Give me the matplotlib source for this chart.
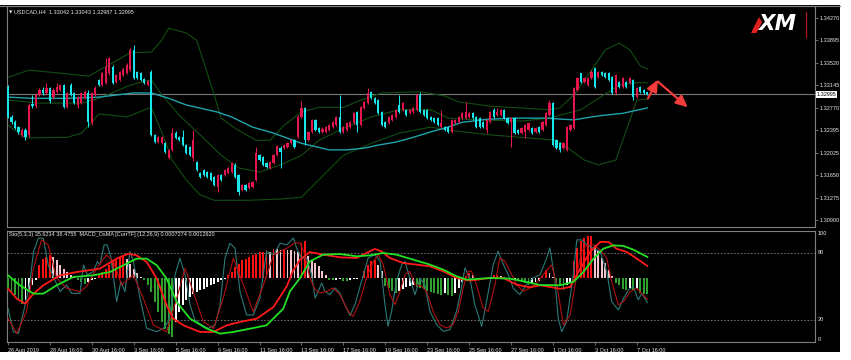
import matplotlib
matplotlib.use("Agg")
import matplotlib.pyplot as plt
import numpy as np
from matplotlib.patches import Rectangle, Polygon
from matplotlib.lines import Line2D

plt.rcParams['font.family'] = ['Liberation Sans', 'DejaVu Sans']

symbol_header = "USDCAD,H4  1.33042 1.33043 1.32987 1.32995"
sub_header = "Sto(5,3,3) 35.6234 38.4755  MACD_OsMA [CurrTF] (12,26,9) 0.0007274 0.0012620"

open_ = [1.3312,1.3262,1.3253,1.3245,1.3232,1.3240,1.3232,1.3283,1.3280,1.3299,1.3307,1.3302,1.3310,1.3295,1.3304,1.3307,1.3315,1.3278,1.3315,1.3302,
1.3282,1.3285,1.3293,1.3302,1.3252,1.3299,1.3324,1.3315,1.3319,1.3335,1.3345,1.3320,1.3324,1.3332,1.3335,1.3340,1.3374,1.3337,1.3335,1.3325,
1.3315,1.3337,1.3232,1.3220,1.3218,1.3218,1.3193,1.3207,1.3235,1.3228,1.3228,1.3215,1.3212,1.3193,1.3187,1.3168,1.3173,1.3170,1.3168,1.3162,
1.3145,1.3165,1.3165,1.3168,1.3170,1.3182,1.3165,1.3140,1.3148,1.3143,1.3145,1.3157,1.3198,1.3195,1.3185,1.3177,1.3185,1.3198,1.3210,1.3210,
1.3212,1.3218,1.3223,1.3228,1.3262,1.3277,1.3223,1.3237,1.3257,1.3243,1.3237,1.3237,1.3240,1.3245,1.3248,1.3262,1.3237,1.3240,1.3245,1.3252,
1.3270,1.3248,1.3277,1.3285,1.3304,1.3293,1.3290,1.3270,1.3253,1.3252,1.3257,1.3262,1.3282,1.3274,1.3274,1.3268,1.3270,1.3274,1.3299,1.3274,
1.3274,1.3262,1.3260,1.3260,1.3245,1.3245,1.3245,1.3237,1.3252,1.3253,1.3260,1.3260,1.3262,1.3268,1.3262,1.3260,1.3253,1.3240,1.3253,1.3274,
1.3265,1.3265,1.3274,1.3260,1.3253,1.3260,1.3240,1.3235,1.3237,1.3240,1.3243,1.3237,1.3245,1.3240,1.3248,1.3265,1.3285,1.3223,1.3218,1.3210,
1.3207,1.3240,1.3243,1.3307,1.3335,1.3320,1.3315,1.3327,1.3343,1.3328,1.3337,1.3335,1.3335,1.3328,1.3302,1.3320,1.3312,1.3320,1.3319,1.3324,
1.3295,1.3312,1.3307,1.33042]
high = [1.3315,1.3265,1.3257,1.3247,1.3243,1.3243,1.3285,1.3299,1.3302,1.3310,1.3312,1.3319,1.3312,1.3310,1.3319,1.3317,1.3317,1.3304,1.3319,1.3304,
1.3297,1.3304,1.3307,1.3307,1.3304,1.3314,1.3325,1.3337,1.3360,1.3362,1.3349,1.3333,1.3338,1.3343,1.3352,1.3377,1.3382,1.3338,1.3337,1.3327,
1.3324,1.3340,1.3233,1.3230,1.3230,1.3220,1.3208,1.3243,1.3238,1.3230,1.3240,1.3217,1.3213,1.3240,1.3188,1.3170,1.3175,1.3172,1.3170,1.3163,
1.3167,1.3167,1.3175,1.3178,1.3187,1.3185,1.3167,1.3150,1.3150,1.3153,1.3155,1.3212,1.3200,1.3197,1.3187,1.3188,1.3200,1.3215,1.3213,1.3217,
1.3220,1.3225,1.3225,1.3265,1.3288,1.3278,1.3238,1.3258,1.3258,1.3245,1.3245,1.3247,1.3250,1.3255,1.3263,1.3299,1.3247,1.3253,1.3255,1.3270,
1.3272,1.3280,1.3288,1.3310,1.3305,1.3295,1.3292,1.3272,1.3255,1.3263,1.3267,1.3275,1.3299,1.3287,1.3275,1.3275,1.3278,1.3300,1.3304,1.3275,
1.3275,1.3263,1.3262,1.3262,1.3274,1.3247,1.3247,1.3258,1.3258,1.3263,1.3270,1.3287,1.3270,1.3270,1.3263,1.3262,1.3255,1.3258,1.3272,1.3277,
1.3277,1.3275,1.3275,1.3262,1.3262,1.3262,1.3242,1.3245,1.3250,1.3253,1.3245,1.3245,1.3247,1.3255,1.3270,1.3290,1.3287,1.3225,1.3220,1.3220,
1.3247,1.3250,1.3312,1.3328,1.3335,1.3328,1.3328,1.3340,1.3345,1.3338,1.3338,1.3337,1.3337,1.3330,1.3333,1.3322,1.3328,1.3322,1.3328,1.3325,
1.3312,1.3314,1.3309,1.33043]
low = [1.3260,1.3250,1.3242,1.3233,1.3228,1.3223,1.3228,1.3277,1.3277,1.3297,1.3299,1.3300,1.3285,1.3292,1.3302,1.3305,1.3277,1.3277,1.3297,1.3283,
1.3277,1.3283,1.3292,1.3245,1.3248,1.3297,1.3314,1.3314,1.3317,1.3332,1.3317,1.3319,1.3322,1.3330,1.3333,1.3338,1.3325,1.3325,1.3322,1.3317,
1.3314,1.3230,1.3218,1.3218,1.3217,1.3202,1.3192,1.3205,1.3225,1.3222,1.3213,1.3200,1.3197,1.3188,1.3172,1.3160,1.3163,1.3160,1.3155,1.3147,
1.3137,1.3155,1.3163,1.3167,1.3168,1.3160,1.3132,1.3138,1.3138,1.3142,1.3143,1.3155,1.3188,1.3180,1.3177,1.3175,1.3183,1.3197,1.3177,1.3208,
1.3210,1.3217,1.3210,1.3227,1.3260,1.3215,1.3222,1.3235,1.3238,1.3235,1.3235,1.3235,1.3238,1.3243,1.3247,1.3235,1.3235,1.3238,1.3243,1.3250,
1.3237,1.3247,1.3275,1.3283,1.3292,1.3283,1.3267,1.3247,1.3243,1.3250,1.3255,1.3260,1.3268,1.3272,1.3263,1.3267,1.3268,1.3272,1.3268,1.3263,
1.3258,1.3255,1.3252,1.3247,1.3243,1.3238,1.3235,1.3235,1.3250,1.3252,1.3258,1.3258,1.3260,1.3258,1.3243,1.3243,1.3243,1.3235,1.3252,1.3260,
1.3263,1.3263,1.3258,1.3250,1.3212,1.3233,1.3233,1.3233,1.3227,1.3238,1.3233,1.3235,1.3235,1.3238,1.3247,1.3263,1.3213,1.3208,1.3203,1.3208,
1.3205,1.3238,1.3242,1.3305,1.3319,1.3319,1.3314,1.3325,1.3310,1.3327,1.3330,1.3327,1.3322,1.3300,1.3300,1.3310,1.3310,1.3310,1.3317,1.3290,
1.3293,1.3302,1.3300,1.32987]
close = [1.3262,1.3253,1.3243,1.3237,1.3240,1.3228,1.3282,1.3280,1.3299,1.3307,1.3302,1.3310,1.3288,1.3307,1.3312,1.3315,1.3278,1.3302,1.3299,1.3285,
1.3295,1.3302,1.3304,1.3253,1.3302,1.3310,1.3315,1.3335,1.3345,1.3360,1.3319,1.3332,1.3337,1.3342,1.3349,1.3374,1.3327,1.3327,1.3324,1.3319,
1.3322,1.3232,1.3220,1.3228,1.3228,1.3203,1.3207,1.3235,1.3227,1.3223,1.3215,1.3202,1.3198,1.3223,1.3173,1.3162,1.3165,1.3162,1.3157,1.3148,
1.3165,1.3157,1.3173,1.3177,1.3185,1.3162,1.3137,1.3148,1.3140,1.3152,1.3153,1.3202,1.3190,1.3182,1.3178,1.3187,1.3198,1.3213,1.3203,1.3215,
1.3218,1.3223,1.3212,1.3262,1.3277,1.3223,1.3237,1.3257,1.3240,1.3237,1.3242,1.3245,1.3248,1.3253,1.3262,1.3237,1.3245,1.3252,1.3253,1.3268,
1.3248,1.3278,1.3287,1.3302,1.3293,1.3285,1.3268,1.3248,1.3245,1.3262,1.3265,1.3274,1.3270,1.3285,1.3265,1.3274,1.3277,1.3299,1.3270,1.3265,
1.3260,1.3257,1.3253,1.3248,1.3252,1.3240,1.3237,1.3257,1.3257,1.3262,1.3268,1.3270,1.3268,1.3260,1.3245,1.3245,1.3245,1.3257,1.3270,1.3262,
1.3270,1.3274,1.3260,1.3252,1.3260,1.3235,1.3235,1.3243,1.3248,1.3252,1.3235,1.3243,1.3237,1.3253,1.3268,1.3285,1.3215,1.3210,1.3207,1.3218,
1.3245,1.3248,1.3310,1.3327,1.3320,1.3327,1.3327,1.3337,1.3312,1.3337,1.3332,1.3328,1.3324,1.3302,1.3332,1.3312,1.3327,1.3312,1.3327,1.3295,
1.3310,1.3304,1.3302,1.32995]

bb_x = [0,6,15,23,29,35,41,44,46,51,54,56,59,61,65,71,75,79,84,89,96,101,107,118,125,129,138,155,158,162,167,171,175,178,181,183]
bb_upper = [1.3328,1.3340,1.3335,1.3330,1.3349,1.3369,1.3370,1.3390,1.3410,1.3402,1.3390,1.3354,1.3299,1.3260,1.3243,1.3223,1.3223,1.3248,1.3270,1.3278,
1.3278,1.3290,1.3302,1.3304,1.3297,1.3287,1.3280,1.3274,1.3277,1.3299,1.3340,1.3374,1.3385,1.3374,1.3347,1.3342]
bbm_x = [0,9,21,26,35,41,44,49,55,61,66,72,78,84,89,96,104,112,121,126,135,147,155,158,164,169,175,179,183]
bb_middle = [1.3290,1.3285,1.3285,1.3293,1.3315,1.3324,1.3299,1.3265,1.3232,1.3198,1.3177,1.3170,1.3182,1.3198,1.3223,1.3243,1.3262,1.3274,1.3274,1.3260,
1.3257,1.3255,1.3260,1.3265,1.3274,1.3293,1.3315,1.3319,1.3319]
bbl_x = [0,5,17,21,24,26,34,41,44,47,51,55,59,69,78,84,89,96,104,112,121,126,138,149,157,161,165,169,174,177,180,183]
bb_lower = [1.3248,1.3227,1.3228,1.3235,1.3253,1.3267,1.3262,1.3278,1.3237,1.3190,1.3157,1.3132,1.3123,1.3123,1.3125,1.3128,1.3157,1.3198,1.3218,1.3235,
1.3245,1.3240,1.3232,1.3227,1.3223,1.3207,1.3190,1.3182,1.3190,1.3240,1.3290,1.3292]
ma_x = [0,7,17,26,36,41,46,51,60,64,70,76,84,92,97,102,106,111,116,121,126,130,137,145,154,162,167,171,176,183]
ma_long = [1.3295,1.3293,1.3293,1.3295,1.3302,1.3302,1.3293,1.3282,1.3270,1.3262,1.3245,1.3235,1.3218,1.3207,1.3207,1.3210,1.3215,1.3220,1.3228,1.3237,
1.3245,1.3253,1.3258,1.3260,1.3260,1.3257,1.3262,1.3265,1.3268,1.3277]
bid_price = 1.32995

price_ticks = [1.34270,1.33895,1.33520,1.33145,1.32770,1.32395,1.32025,1.31650,1.31275,1.30900]
date_labels = ["26 Aug 2019","28 Aug 16:00","30 Aug 16:00","3 Sep 16:00","5 Sep 16:00","9 Sep 16:00",
               "11 Sep 16:00","13 Sep 16:00","17 Sep 16:00","19 Sep 16:00","23 Sep 16:00","25 Sep 16:00",
               "27 Sep 16:00","1 Oct 16:00","3 Oct 16:00","7 Oct 16:00"]
date_bars = [0,12,24,36,48,60,72,84,96,108,120,132,144,156,168,180]

sto_k_x = [0,1.5,3,4.9,6.3,7.3,8.7,10.1,11.5,13,14.9,16.8,18.2,20.6,21.6,22.7,24.4,25.6,26.3,27.5,28.4,29.4,31.1,32.3,33.5,34.9,35.9,37.8,39.7,42.6,
44.5,45.9,46.9,47.8,49.2,50.7,52.1,53.5,55.4,57.3,59.3,60.7,62.1,63.5,65,66.4,68.3,70.2,72.1,74,76,77.9,79.8,
81.7,82.6,84,85.5,86.9,87.9,88.8,89.8,90.7,92.1,93.6,95,96.4,97.9,99.3,101.2,103.1,105,106.5,107.9,108.8,109.8,111.2,112.7,113.6,115,
116.5,117.9,119.3,120.8,122.7,124.6,126.5,128.4,129.8,130.8,132.2,133.6,135.6,137,138.9,140.3,141.8,143.2,144.6,146.5,148.4,150.3,152.3,154.2,155.1,156.5,
157.5,158.5,159.9,161.8,162.8,164.2,165.7,167.6,169.5,171.4,172.8,174.7,176.2,177.6,179,180.4,181.4,183]
sto_k = [30.4,9.5,8.0,33.4,54.3,81.1,93.1,93.1,69.2,58.7,45.3,51.3,43.8,43.8,69.2,60.2,63.2,72.2,69.2,87.1,87.1,76.7,36.4,54.3,45.3,81.1,72.2,39.4,12.5,9.5,
12.5,18.5,36.4,60.2,75.2,60.2,33.4,20.0,15.5,12.5,15.5,33.4,75.2,88.6,84.1,45.3,24.4,24.4,39.4,81.1,78.1,88.6,87.1,
93.3,84.4,75.4,75.4,60.5,39.6,45.6,53.1,45.6,42.6,48.6,44.1,33.7,24.1,33.7,54.6,75.4,78.4,72.5,33.7,14.3,27.7,54.6,69.5,72.5,57.5,
42.6,57.5,51.6,27.7,15.8,9.8,11.3,27.7,48.6,66.5,57.5,33.7,14.3,36.7,69.5,81.4,69.5,60.5,48.6,42.6,51.6,57.5,60.5,75.4,84.4,57.5,
21.4,9.5,18.5,60.2,91.6,91.6,87.1,84.1,81.1,63.2,36.4,28.9,39.4,46.8,49.8,37.9,43.8,35.6234]
sto_d_x = [0,2.5,5.3,7.3,9.6,11.5,13.9,16.8,20.6,22.5,25.4,28.2,30.2,32.5,35.9,38.7,41.6,45.4,48.3,50.7,53,55.9,58.8,61.6,64.5,67.4,70.2,73.1,76,79.8,
82.1,83.6,85,86.4,87.9,89.3,91.2,93.1,95,97.4,98.8,100.7,102.6,104.6,106,107.4,109.3,110.8,112.2,113.6,115,116.5,118.4,119.8,121.7,123.6,125.5,127.4,
128.9,130.3,131.7,132.7,134.1,136,137.5,139.4,140.8,142.2,143.7,145.6,147.5,149.4,151.3,153.2,
155.6,157.1,159,160.9,162.8,164.2,165.7,167.6,169.5,171.4,172.8,174.7,176.2,178.1,180,181.4,183]
sto_d = [21.4,8,27.4,66.2,91.6,87.1,57.3,48.3,45.3,49.8,66.2,78.1,72.2,51.3,60.2,39.4,15.5,9.5,39.4,66.2,45.3,18.5,12.5,39.4,75.2,51.3,27.4,51.3,78.1,84.1,
88.9,88.9,78.4,57.5,47.1,44.1,45.6,48.6,42.6,27.7,23.2,36.7,57.5,72.5,78.4,69.5,42.6,33.7,45.6,60.5,63.5,51.6,50.1,45.6,27.7,15.8,12.8,15.8,
27.7,48.6,63.5,63.5,51.6,30.7,27.7,51.6,75.4,72.5,63.5,51.6,45.6,48.6,53.1,60.5,
69.2,51.3,15.5,24.4,60.2,81.1,87.1,87.1,82.6,75.2,54.3,33.4,36.4,45.3,48.3,43.8,38.4755]

# MACD / signal lines, units of 1e-4
macd_x = [0,2.5,4.9,7.3,10.1,14.9,19.7,26.3,31.1,34.4,36.8,39.7,42.6,45.4,47.3,50.2,55,58.8,62.6,66.4,71.2,76,79.8,
81.5,83.6,86.4,90.2,95,99.8,103.1,105,106.9,109.3,113.1,117,120.8,124.6,128.4,132.2,138,141.8,145.6,149.4,
152.3,155.2,158,160.9,163.8,166.6,169.5,171.9,174.2,177.1,180,183]
macd_line = [-6.4,-12.4,-15.4,-9.4,-4.4,1.6,3.6,5.6,11.6,14.6,13.6,9.6,-0.4,-16.4,-24.4,-28.4,-32.4,-32.4,-28.4,-26.4,-24.4,-17.4,-5,
4,11,15.6,14,12.4,12,15.6,17.4,16,12,9,8,7,4,0,-1.6,0,0,-4,-5.6,
-4.4,-5.4,-6.5,-5.4,5.6,15.6,21.6,21.6,17.6,15.6,11.6,7.274]
signal_x = [0,3.4,7.3,10.1,13.9,18.7,24.4,29.2,33,36.8,39.7,42.6,45.4,48.3,52.1,56.9,60.7,64.5,69.3,74,78.8,
80.7,83.6,86.4,90.2,95,99.8,103.6,107.4,111.2,116,120.8,124.6,128.4,131.3,138,143.7,147.5,
152.3,158,161.8,164.7,167.6,170.4,173.3,176.2,179,183]
signal_line = [1.6,-4.4,-9.4,-9.4,-4.4,0.6,1.6,3.6,7.6,11.6,11.6,7.6,-0.4,-14.4,-24.4,-30.4,-33.4,-32.4,-30.4,-28.4,-18.4,
-8,0,10,14,14.4,13,13.6,15,14,11,8,5,1,-1,0,-0.4,-2,
-4.2,-4.4,-2.4,3.6,11.6,17.6,19.6,19.2,17,12.62]
osma_hist = [-7,-8.5,-10,-13,-15.5,-13.4,-8.4,-4.4,-1.4,7.6,11.6,12.6,13.6,12.6,10.6,7.6,5.6,3.6,2.0,0.6,
-1.4,-2.4,-3.4,-2.4,-1.4,-0.4,1.6,3.6,5.6,7.6,9.6,11.6,12.6,13.2,11.6,8.6,5.6,3.0,0.6,
-1.4,-4.4,-8.4,-14.4,-20.4,-26.4,-30.4,-33.4,-35.4,-26.4,-20.4,-16.4,-13.4,-11.4,-9.4,-8.4,-7.4,-6.4,-5.4,-4.4,-3.4,-2.4,
-1.4,-0.4,1.6,3.6,6.6,8.6,10.6,11.6,12.6,13.6,14.6,15.6,15.6,16.6,15.6,17.6,17.2,16.6,17.6,17.0,16.5,16.0,15.8,
21,22,13,11,9,7,4.4,2,-1,-1.4,-1,-0.6,-1.6,-2,-1,-0.6,-0.4,-0.2,4,8,10,11,8,4,
-5,-6,-8,-9,-7.6,-6.6,-5.6,-5,-4.4,-5.2,-6,-6.8,-7.6,-8.4,-9,-9.4,-10,-9.2,-10.4,-11,-9,-6,-2.6,
1,3,2,0.2,-1,-0.4,-0.2,0.8,1.8,2,1.4,0.6,0.2,-0.6,-0.4,-1.2,-2,-3,-4,-3.6,-2.6,-1.6,2,5,3,0.5,
-4,-5,-7,-4,-2.4,10,18,22,24,25,25.4,20,17,12,9,5,1,-3,-4.4,-6.4,-7.2,-6,-7.4,-6.6,-9,-9.4,-9.6]

arrow_up = [(183.2, 1.3293), (186.0, 1.3324)]
arrow_down = [(186.0, 1.3321), (194.6, 1.3278)]

# ---------------- drawing ----------------
W, H = 851, 360
fig = plt.figure(figsize=(W / 100, H / 100), dpi=100)
fig.patch.set_facecolor("white")
fig.add_artist(Rectangle((0, 1 - 352 / H), 840 / W, (352 - 5) / H, transform=fig.transFigure,
                         facecolor="black", edgecolor="none", zorder=0))
fig.add_artist(Line2D([0, 840 / W], [1 - 5.5 / H] * 2, transform=fig.transFigure, color="#808080", lw=0.8))

GRID = "#808080"
BULL = "#e3174e"
BEAR = "#19e6ec"
TXT = "#e8e8e8"
FS = 4.0
XL = (-0.29, 231.0)

ax = fig.add_axes([7 / W, 1 - 227 / H, 808 / W, 221 / H])
ax2 = fig.add_axes([7 / W, 1 - 342.3 / H, 808 / W, 111.8 / H])
for a in (ax, ax2):
    a.set_facecolor("black")
    for s in a.spines.values():
        s.set_color(GRID)
        s.set_linewidth(0.8)
    a.set_xlim(*XL)

ax.set_ylim(1.30784, 1.34470)
n = len(close)
assert len(open_) == n == len(high) == len(low) == len(osma_hist)
x = np.arange(n)
o = np.array(open_); c = np.array(close)
cols = np.where(c >= o, BULL, BEAR)
ax.vlines(x, low, high, colors=cols, lw=0.75, zorder=3)
bot = np.minimum(o, c)
hgt = np.maximum(np.abs(c - o), 0.00012)
ax.bar(x, hgt, 0.62, bottom=bot, color=cols, edgecolor="none", zorder=4)

BBC = "#134d13"
ax.plot(bb_x, bb_upper, color=BBC, lw=0.8, zorder=2)
ax.plot(bbm_x, bb_middle, color=BBC, lw=0.8, zorder=2)
ax.plot(bbl_x, bb_lower, color=BBC, lw=0.8, zorder=2)
ax.plot(ma_x, ma_long, color="#1fa3ad", lw=1.0, zorder=2)
ax.axhline(bid_price, color="#7a7a7a", lw=0.8, zorder=1)

for (p0, p1) in (arrow_up, arrow_down):
    ax.annotate("", xy=p1, xytext=p0,
                arrowprops=dict(arrowstyle="-|>,head_length=0.7,head_width=0.32", color="#f23c3c", lw=1.6,
                                shrinkA=0, shrinkB=0), zorder=6)

ax.set_yticks(price_ticks)
ax.set_yticklabels([f"{v:.5f}" for v in price_ticks])
ax.yaxis.tick_right()
ax.tick_params(axis="y", length=2, width=0.6, color=GRID, labelcolor=TXT, labelsize=FS, pad=1)
ax.set_xticks([])
ax.text(1.002, bid_price, f"{bid_price:.5f}", transform=ax.get_yaxis_transform(), fontsize=FS,
        color="black", va="center", ha="left",
        bbox=dict(boxstyle="square,pad=0.15", fc="white", ec="none"), zorder=10, clip_on=False)

fig.text(9 / W, 1 - 12 / H, "\u25bc", fontsize=3.2, color=TXT, va="center", ha="left", family="DejaVu Sans")
fig.text(14 / W, 1 - 12 / H, symbol_header, fontsize=FS, color=TXT, va="center", ha="left")

# XM logo
fig.text(777 / W, 1 - 24.5 / H, "XM", fontsize=15.5, color="white", weight="bold", style="italic",
         va="center", ha="center", family="DejaVu Sans")
fig.add_artist(Polygon([(751 / W, 1 - 33 / H), (759 / W, 1 - 17 / H), (762 / W, 1 - 22 / H), (756.5 / W, 1 - 33 / H)],
                       closed=True, transform=fig.transFigure, facecolor="#e02020", edgecolor="none"))
fig.add_artist(Line2D([806 / W] * 2, [1 - 12 / H, 1 - 37 / H], transform=fig.transFigure, color="#b01818", lw=0.9))

# ---------- lower panel ----------
ax2.set_ylim(0, 100)
ax2.axhline(80, color=GRID, lw=0.6, ls=(0, (2, 2)))
ax2.axhline(20, color=GRID, lw=0.6, ls=(0, (2, 2)))
ax2.set_yticks([])
ax3 = ax2.twinx()
ax3.set_ylim(-38.6, 28.5)
ax3.set_xlim(*XL)
ax3.axis("off")
h = np.array(osma_hist)
prev = np.concatenate([[h[0]], h[:-1]])
hcols = []
for v, p in zip(h, prev):
    if v >= 0:
        hcols.append("#ff1010" if v >= p else "#f4c4cc")
    else:
        hcols.append("#2fa02f" if v <= p else "#ffffff")
ax3.bar(x, h, 0.55, color=hcols, edgecolor="none", zorder=2)
ax4 = ax2.twinx()
ax4.set_ylim(0, 100)
ax4.set_xlim(*XL)
ax4.axis("off")
ax4.plot(sto_k_x, sto_k, color="#2a7a78", lw=0.8, zorder=5)
ax4.plot(sto_d_x, sto_d, color="#b01010", lw=0.8, zorder=5)
ax5 = ax2.twinx()
ax5.set_ylim(-38.6, 28.5)
ax5.set_xlim(*XL)
ax5.axis("off")
ax5.plot(macd_x, macd_line, color="#ff1a1a", lw=1.3, zorder=4)
ax5.plot(signal_x, signal_line, color="#22e022", lw=1.3, zorder=4)

ax2.set_xticks(date_bars)
ax2.set_xticklabels(date_labels)
for lab in ax2.get_xticklabels():
    lab.set_horizontalalignment("left")
ax2.tick_params(axis="x", length=2.5, width=0.6, color=GRID, labelcolor=TXT, labelsize=FS, pad=1.5)
for val, va in ((100, "top"), (80, "center"), (20, "center"), (0, "bottom")):
    ax2.text(1.003, val, str(val), transform=ax2.get_yaxis_transform(), fontsize=FS, color=TXT,
             va=va, ha="left", clip_on=False)
ax5.text(0.002, 0.985, sub_header, transform=ax5.transAxes, fontsize=FS, color=TXT, va="top", ha="left", zorder=10)

fig.savefig("out.png", dpi=100, facecolor=fig.get_facecolor())
